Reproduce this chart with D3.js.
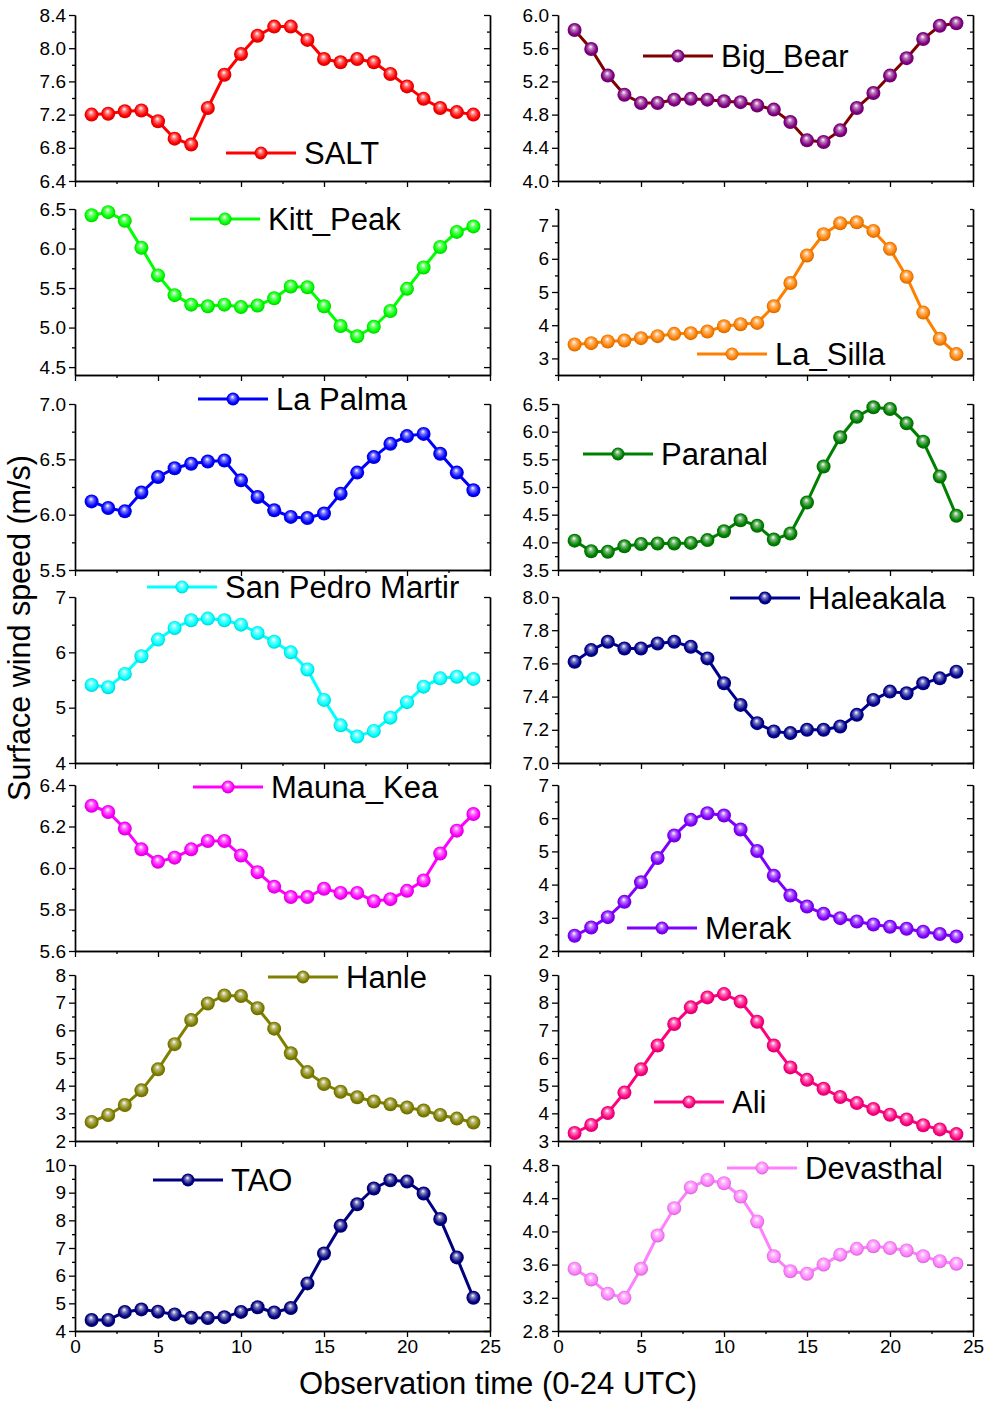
<!DOCTYPE html>
<html><head><meta charset="utf-8">
<script src="https://cdn.jsdelivr.net/npm/d3@7"></script>
<style>body{margin:0;background:#fff}svg{display:block}</style>
</head><body><svg id="c" width="988" height="1403"></svg>
<script>
// ---------------- data ----------------
const hours = [1,2,3,4,5,6,7,8,9,10,11,12,13,14,15,16,17,18,19,20,21,22,23,24];
const xTicks = [0,5,10,15,20,25];

const salt      = [7.20,7.21,7.24,7.25,7.12,6.91,6.84,7.28,7.68,7.93,8.15,8.26,8.26,8.10,7.87,7.83,7.87,7.83,7.69,7.54,7.39,7.28,7.23,7.20];
const bigBear   = [5.82,5.59,5.27,5.04,4.94,4.94,4.98,4.99,4.98,4.96,4.95,4.91,4.86,4.71,4.49,4.47,4.61,4.88,5.06,5.27,5.48,5.71,5.87,5.90];
const kittPeak  = [6.42,6.46,6.35,6.01,5.66,5.41,5.29,5.27,5.29,5.26,5.28,5.37,5.52,5.51,5.27,5.02,4.89,5.01,5.21,5.49,5.76,6.02,6.21,6.28];
const laSilla   = [3.42,3.46,3.51,3.54,3.61,3.67,3.74,3.76,3.81,3.97,4.03,4.07,4.57,5.27,6.10,6.74,7.07,7.10,6.84,6.30,5.46,4.38,3.59,3.13];
const laPalma   = [6.12,6.06,6.03,6.20,6.34,6.42,6.46,6.48,6.49,6.31,6.16,6.04,5.98,5.97,6.01,6.19,6.38,6.52,6.64,6.71,6.73,6.55,6.38,6.22];
const paranal   = [4.03,3.84,3.83,3.93,3.97,3.98,3.98,3.99,4.04,4.20,4.40,4.30,4.05,4.16,4.72,5.37,5.90,6.27,6.44,6.41,6.15,5.82,5.19,4.48];
const sanPedro  = [5.41,5.37,5.61,5.93,6.23,6.44,6.58,6.61,6.58,6.50,6.35,6.19,6.00,5.69,5.14,4.68,4.48,4.58,4.82,5.10,5.38,5.53,5.56,5.52];
const haleakala = [7.61,7.68,7.73,7.69,7.69,7.72,7.73,7.70,7.63,7.48,7.35,7.24,7.19,7.18,7.20,7.20,7.22,7.29,7.38,7.43,7.42,7.48,7.51,7.55];
const maunaKea  = [6.30,6.27,6.19,6.09,6.03,6.05,6.09,6.13,6.13,6.06,5.98,5.91,5.86,5.86,5.90,5.88,5.88,5.84,5.85,5.89,5.94,6.07,6.18,6.26];
const merak     = [2.46,2.71,3.02,3.48,4.07,4.80,5.48,5.95,6.15,6.08,5.66,5.01,4.27,3.67,3.34,3.12,2.99,2.89,2.80,2.73,2.67,2.58,2.51,2.44];
const hanle     = [2.69,2.94,3.30,3.83,4.59,5.50,6.37,6.97,7.26,7.24,6.80,6.06,5.17,4.49,4.06,3.78,3.58,3.43,3.33,3.21,3.10,2.94,2.81,2.67];
const ali       = [3.29,3.58,4.01,4.75,5.59,6.45,7.23,7.83,8.19,8.31,8.04,7.31,6.45,5.66,5.21,4.89,4.59,4.37,4.16,3.95,3.78,3.57,3.42,3.25];
const tao       = [4.40,4.40,4.69,4.78,4.70,4.60,4.48,4.47,4.50,4.69,4.86,4.67,4.83,5.72,6.80,7.80,8.58,9.15,9.45,9.40,8.97,8.05,6.66,5.20];
const devasthal = [3.55,3.42,3.25,3.20,3.55,3.95,4.28,4.53,4.62,4.58,4.42,4.12,3.70,3.52,3.49,3.60,3.72,3.79,3.82,3.80,3.77,3.70,3.64,3.61];

const names = ["SALT","Big_Bear","Kitt_Peak","La_Silla","La Palma","Paranal","San Pedro Martir","Haleakala","Mauna_Kea","Merak","Hanle","Ali","TAO","Devasthal"];
const series = [salt,bigBear,kittPeak,laSilla,laPalma,paranal,sanPedro,haleakala,maunaKea,merak,hanle,ali,tao,devasthal];
const yDomains = [[6.4,8.4],[4.0,6.0],[4.4,6.5],[2.5,7.5],[5.5,7.0],[3.5,6.5],[4,7],[7.0,8.0],[5.6,6.4],[2,7],[2,8],[3,9],[4,10],[2.8,4.8]];
const yTicks = [
  [6.4,6.8,7.2,7.6,8.0,8.4],
  [4.0,4.4,4.8,5.2,5.6,6.0],
  [4.5,5.0,5.5,6.0,6.5],
  [3,4,5,6,7],
  [5.5,6.0,6.5,7.0],
  [3.5,4.0,4.5,5.0,5.5,6.0,6.5],
  [4,5,6,7],
  [7.0,7.2,7.4,7.6,7.8,8.0],
  [5.6,5.8,6.0,6.2,6.4],
  [2,3,4,5,6,7],
  [2,3,4,5,6,7,8],
  [3,4,5,6,7,8,9],
  [4,5,6,7,8,9,10],
  [2.8,3.2,3.6,4.0,4.4,4.8]
];
const yFormats = [".1f",".1f",".1f","d",".1f",".1f","d",".1f",".1f","d","d","d","d",".1f"];
const lineColors   = ["#FF0000","#800000","#00FF00","#FF8000","#0000FF","#008000","#00FFFF","#00008F","#FF00FF","#8000FF","#808000","#FF0080","#000080","#FF80FF"];
const markerColors = ["#FF0000","#800080","#00FF00","#FF8000","#0000FF","#008000","#00FFFF","#00008F","#FF00FF","#8000FF","#808000","#FF0080","#000080","#FF80FF"];

// ---------------- layout ----------------
const colX = [[75,490],[558,973]];
const rowTop = [15,209,404,597,785,975,1165];
const plotH = 166;
const legendPos = [[226,153],[643,56],[190,219],[697,354],[198,399],[583,454],[147,587],[730,598],[193,787],[627,928],[268,977],[654,1102],[153,1180],[727,1168]];
const FONT = "'Liberation Sans', Arial, Helvetica, sans-serif";

const svg = d3.select("#c");
const defs = svg.append("defs");

function gradId(i){ return "g"+i; }
markerColors.forEach((c,i)=>{
  const base = d3.color(c);
  const g = defs.append("radialGradient").attr("id",gradId(i))
    .attr("cx","50%").attr("cy","50%").attr("r","55%").attr("fx","45%").attr("fy","32%");
  g.append("stop").attr("offset","0%").attr("stop-color","#ffffff");
  g.append("stop").attr("offset","30%").attr("stop-color",d3.interpolateRgb(c,"#ffffff")(0.45));
  g.append("stop").attr("offset","70%").attr("stop-color",c);
  g.append("stop").attr("offset","100%").attr("stop-color",base.darker(0.8).formatHex());
});

function minorsOf(ticks, domain){
  const step = ticks[1]-ticks[0];
  const out = [];
  for(let k=0;k<ticks.length;k++){
    const a = ticks[k]-step/2, b = ticks[k]+step/2;
    if(a>=domain[0]-1e-9 && a<=domain[1]+1e-9) out.push(+a.toFixed(4));
    if(k===ticks.length-1 && b<=domain[1]+1e-9) out.push(+b.toFixed(4));
  }
  return out;
}

names.forEach((name,i)=>{
  const col = i%2, row = Math.floor(i/2);
  const [x0,x1] = colX[col];
  const top = rowTop[row], bot = top+plotH;
  const x = d3.scaleLinear().domain([0,25]).range([x0,x1]);
  const y = d3.scaleLinear().domain(yDomains[i]).range([bot,top]);
  const g = svg.append("g");
  const fmt = d3.format(yFormats[i]);
  const minorY = minorsOf(yTicks[i], yDomains[i]);
  const minorX = [2.5,7.5,12.5,17.5,22.5];

  // left axis
  g.append("g").attr("transform",`translate(${x0},0)`)
    .call(d3.axisLeft(y).tickValues(yTicks[i]).tickSize(6).tickSizeOuter(0).tickPadding(3).tickFormat(fmt));
  g.append("g").attr("transform",`translate(${x0},0)`)
    .call(d3.axisLeft(y).tickValues(minorY).tickSize(3).tickSizeOuter(0).tickFormat(""));
  // right axis (inward ticks)
  g.append("g").attr("transform",`translate(${x1},0)`)
    .call(d3.axisLeft(y).tickValues(yTicks[i]).tickSize(6).tickSizeOuter(0).tickFormat(""));
  g.append("g").attr("transform",`translate(${x1},0)`)
    .call(d3.axisLeft(y).tickValues(minorY).tickSize(3).tickSizeOuter(0).tickFormat(""));
  // bottom axis
  const showX = row===6;
  g.append("g").attr("transform",`translate(0,${bot})`)
    .call(d3.axisBottom(x).tickValues(xTicks).tickSize(6).tickSizeOuter(0).tickPadding(3).tickFormat(showX? d3.format("d") : ""));
  g.append("g").attr("transform",`translate(0,${bot})`)
    .call(d3.axisBottom(x).tickValues(minorX).tickSize(3).tickSizeOuter(0).tickFormat(""));

  g.selectAll(".domain").attr("stroke","#000").attr("stroke-width",1.4);
  g.selectAll(".tick line").attr("stroke","#000").attr("stroke-width",1.3);
  g.selectAll(".tick text").attr("font-family",FONT).attr("font-size",19).attr("fill","#000");

  // series line
  const pts = hours.map((h,k)=>[h,series[i][k]]);
  g.append("path").datum(pts)
    .attr("fill","none").attr("stroke",lineColors[i]).attr("stroke-width",3).attr("stroke-linejoin","round")
    .attr("d",d3.line().x(d=>x(d[0])).y(d=>y(d[1])));
  g.selectAll("circle.pt").data(pts).join("circle").attr("class","pt")
    .attr("cx",d=>x(d[0])).attr("cy",d=>y(d[1])).attr("r",7)
    .attr("fill",`url(#${gradId(i)})`);

  // legend
  const [lx,ly] = legendPos[i];
  const lg = svg.append("g");
  lg.append("line").attr("x1",lx).attr("x2",lx+70).attr("y1",ly).attr("y2",ly)
    .attr("stroke",lineColors[i]).attr("stroke-width",3);
  lg.append("circle").attr("cx",lx+35).attr("cy",ly).attr("r",6.5).attr("fill",`url(#${gradId(i)})`);
  lg.append("text").attr("x",lx+78).attr("y",ly).attr("dy","0.36em")
    .attr("font-family",FONT).attr("font-size",31).attr("fill","#000").text(name);
});

// axis titles
svg.append("text").attr("x",498).attr("y",1394).attr("text-anchor","middle")
  .attr("font-family",FONT).attr("font-size",31).attr("fill","#000").text("Observation time (0-24 UTC)");
svg.append("text").attr("transform","translate(30,628) rotate(-90)").attr("text-anchor","middle")
  .attr("font-family",FONT).attr("font-size",30.5).attr("fill","#000").text("Surface wind speed (m/s)");
</script>
</body></html>
